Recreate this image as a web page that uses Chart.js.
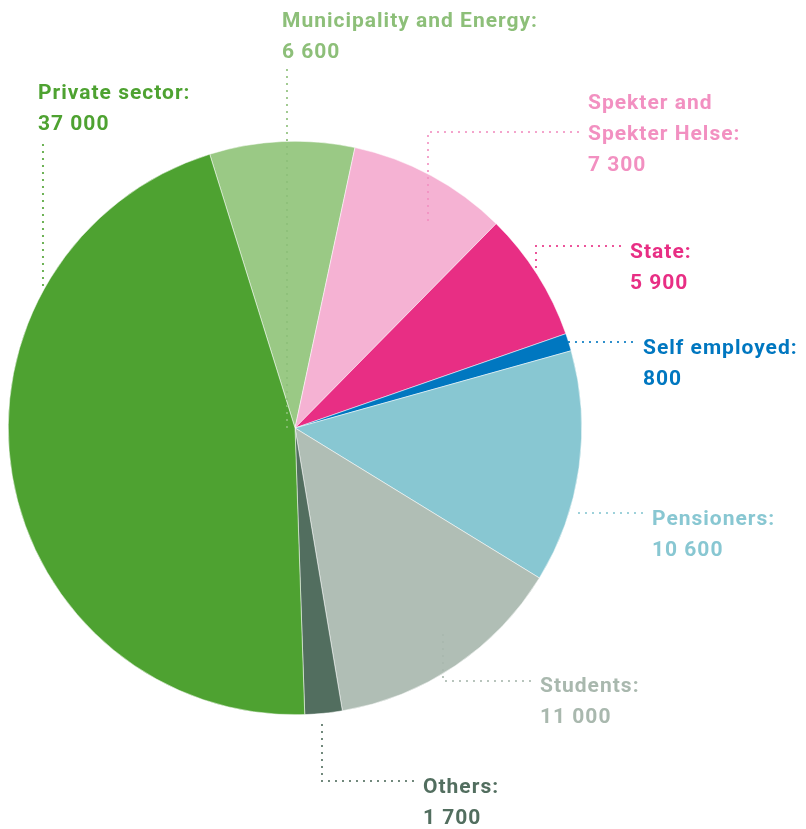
<!DOCTYPE html>
<html>
<head>
<meta charset="utf-8">
<script src="https://cdn.jsdelivr.net/npm/chart.js@4"></script>
<style>
  html, body { margin: 0; padding: 0; background: #ffffff; }
  #wrap { width: 806px; height: 829px; position: relative; }
</style>
</head>
<body>
<div id="wrap"><canvas id="pieChart" width="806" height="829"></canvas></div>
<script>
const categories = ['Municipality and Energy', 'Spekter and\nSpekter Helse', 'State', 'Self employed', 'Pensioners', 'Students', 'Others', 'Private sector'];
const members = [6600, 7300, 5900, 800, 10600, 11000, 1700, 37000];
const sliceColors = ['#9ac985', '#f5b2d3', '#e82e84', '#0077c0', '#88c7d2', '#b0beb5', '#526e5f', '#4ea231'];
const textColors = ['#8dbf79', '#f290c1', '#e82e84', '#0077c0', '#88c7d2', '#a9b8ae', '#526e5f', '#4ea231'];

// where each label sits and how its dotted leader runs
const labelLayout = [
  { x: 282, y: 27, path: [[287, 70], [287, 428]] },
  { x: 588, y: 109, path: [[578, 132], [428, 132], [428, 222]] },
  { x: 630, y: 258, path: [[620, 246], [536, 246], [536, 268]] },
  { x: 643, y: 354, path: [[632, 342], [568, 342]] },
  { x: 652, y: 525, path: [[642, 513], [572, 513]] },
  { x: 540, y: 692, path: [[530, 681], [443, 681], [443, 630]] },
  { x: 423, y: 793, path: [[413, 781], [322, 781], [322, 719]] },
  { x: 38, y: 99, path: [[43, 145], [43, 290]] }
];

function formatNumber(v) {
  return String(v).replace(/\B(?=(\d{3})+(?!\d))/g, ' ');
}

const calloutPlugin = {
  id: 'callouts',
  afterDraw(chart) {
    const ctx = chart.ctx;
    ctx.save();
    labelLayout.forEach((item, i) => {
      ctx.strokeStyle = textColors[i];
      ctx.lineWidth = 2.2;
      ctx.lineCap = 'round';
      ctx.setLineDash([0, 7]);
      ctx.beginPath();
      item.path.forEach((p, j) => (j === 0 ? ctx.moveTo(p[0], p[1]) : ctx.lineTo(p[0], p[1])));
      ctx.stroke();

      ctx.setLineDash([]);
      ctx.fillStyle = textColors[i];
      ctx.font = 'bold 21px Roboto';
      ctx.letterSpacing = '1px';
      ctx.textBaseline = 'alphabetic';
      ctx.textAlign = 'left';
      const lines = (categories[i] + ':').split('\n');
      lines.push(formatNumber(members[i]));
      lines.forEach((line, k) => ctx.fillText(line, item.x, item.y + k * 31));
    });
    ctx.restore();
  }
};

new Chart(document.getElementById('pieChart'), {
  type: 'pie',
  data: {
    labels: categories,
    datasets: [
      {
        data: members,
        backgroundColor: sliceColors,
        borderColor: '#ffffff',
        borderWidth: 0.5
      }
    ]
  },
  options: {
    responsive: false,
    animation: false,
    rotation: -17.3,
    layout: {
      padding: { left: 8, right: 224, top: 141, bottom: 114 }
    },
    plugins: {
      legend: { display: false },
      tooltip: { enabled: false }
    }
  },
  plugins: [calloutPlugin]
});
</script>
</body>
</html>
